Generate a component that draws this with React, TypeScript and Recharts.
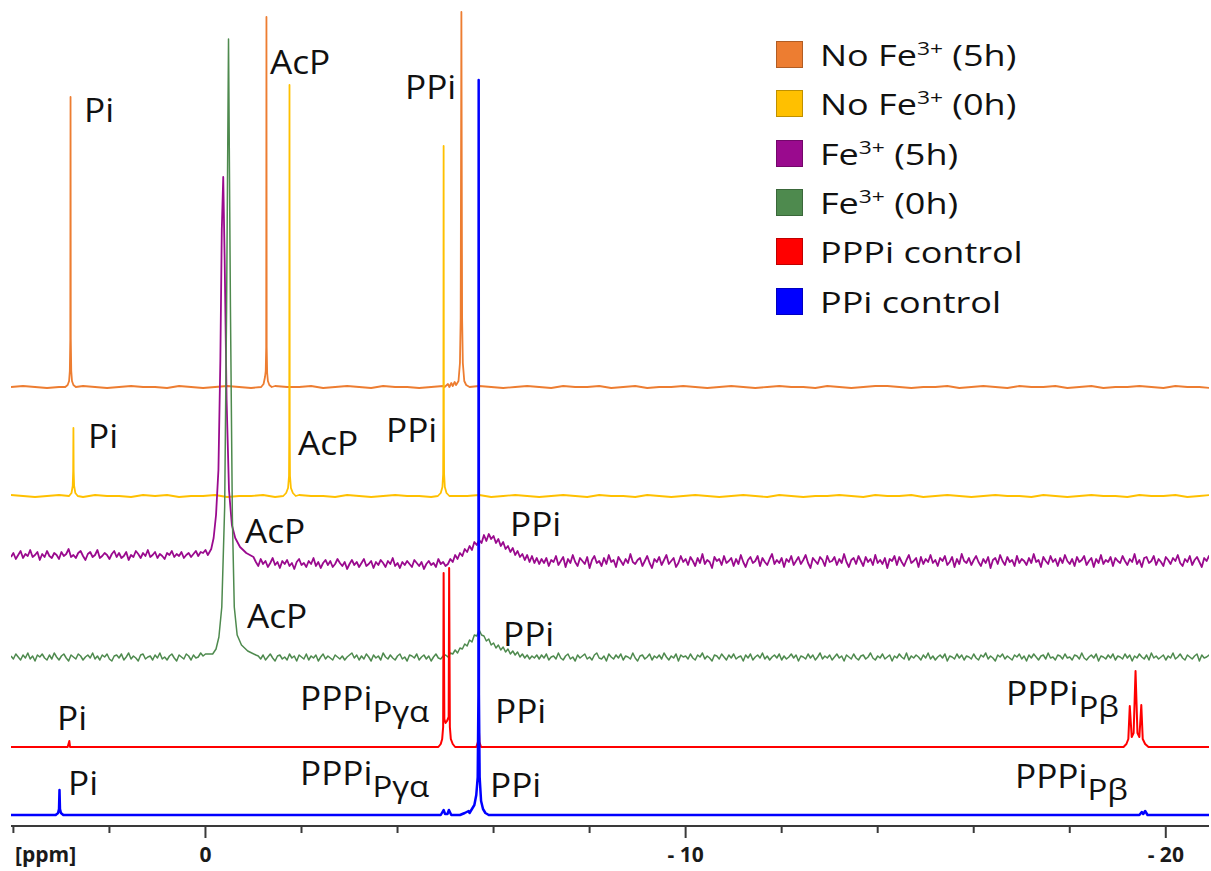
import React from 'react';
import { LineChart, Line, XAxis, YAxis } from 'recharts';

type Pt = [number, number];
type Segment = { from: number; step: number; values: number[] };

const W = 1211;
const H = 871;
const PLOT_H = 826;
const PPM_LEFT = 4.05;
const PPM_RIGHT = -20.9;
const AXIS_TICKS = [4, 2, 0, -2, -4, -6, -8, -10, -12, -14, -16, -18, -20];

// ---- No Fe3+ (5h) ----
const orangeBase: Segment[] = [
  {
    from: 4.05,
    step: 0.25,
    values: [
      0, 1, 0, -1, 0, 1, 1, 0, -1, 0, 1, 0, 0, -1, 1, 0, -1, 0, 1, 0,
      -1, 0, 1, 0, 0, 1, -1, 0, 1, 0, -1, 1, 0, 0, -1, 0, 1, 0, -1, 1,
      0, -1, 0, 1, 0, -1, 1, 0, 0, 1, -1, 0, 1, -1, 0, 0, 1, 0, -1, 0,
      1, 0, -1, 0, 1, 0, 0, -1, 1, 0, -1, 0, 1, 1, 0, -1, 0, 0, 1, -1,
      0, 1, 0, -1, 1, 0, 0, 1, -1, 0, 1, -1, 0, 0, 1, 0, -1, 1, 0, 0,
      -1,
    ],
  },
];
const orangePeaks: Pt[][] = [
  [[2.92, 0], [2.87, 2], [2.84, 6], [2.825, 16], [2.815, 48], [2.81, 290], [2.805, 48], [2.795, 16], [2.78, 6], [2.75, 2], [2.7, 0]],
  [[-1.16, 0], [-1.21, 3], [-1.24, 10], [-1.255, 16], [-1.265, 40], [-1.27, 370], [-1.275, 40], [-1.285, 14], [-1.3, 6], [-1.33, 2], [-1.38, 0]],
  [[-4.98, 0], [-5.05, 3], [-5.08, 0], [-5.12, 4], [-5.15, 1], [-5.19, 5], [-5.22, 2], [-5.27, 6], [-5.3, 24], [-5.315, 69], [-5.33, 375], [-5.345, 69], [-5.36, 24], [-5.39, 6], [-5.43, 2], [-5.5, 0]],
];

// ---- No Fe3+ (0h) ----
const yellowBase: Segment[] = [
  {
    from: 4.05,
    step: 0.25,
    values: [
      1, 0, -1, 0, 1, 0, -1, 1, 0, 0, -1, 1, 0, 1, -1, 0, 0, 1, -1, 0,
      0, 1, -1, 0, 1, 0, 0, -1, 1, 0, -1, 0, 1, 0, 0, -1, 1, 0, 0, 1,
      -1, 0, 1, 0, -1, 0, 1, 0, -1, 1, 0, 0, -1, 1, 0, -1, 0, 1, 0, -1,
      0, 1, 0, -1, 1, 0, -1, 0, 0, 1, 0, -1, 1, 0, 0, 1, -1, 0, 1, 0,
      -1, 0, 1, 0, 0, -1, 1, 0, -1, 0, 1, 0, 0, -1, 1, 0, 0, 1, -1, 0,
      1,
    ],
  },
];
const yellowPeaks: Pt[][] = [
  [[2.84, 0], [2.79, 3], [2.765, 10], [2.755, 25], [2.75, 68], [2.745, 25], [2.735, 10], [2.71, 3], [2.66, 0]],
  [[-1.62, 0], [-1.68, 3], [-1.72, 8], [-1.74, 20], [-1.745, 60], [-1.75, 411], [-1.755, 60], [-1.76, 20], [-1.78, 8], [-1.82, 3], [-1.88, 0]],
  [[-4.84, 0], [-4.9, 3], [-4.935, 9], [-4.95, 22], [-4.955, 76], [-4.96, 350], [-4.965, 76], [-4.97, 22], [-4.985, 9], [-5.02, 3], [-5.08, 0]],
];

// ---- Fe3+ (5h) ----
const purpleBase: Segment[] = [
  {
    from: 4.05,
    step: 0.05,
    values: [
      3, 7, 1, 5, 9, 2, 6, 4, 10, 3, 5, 8, 0, 6, 3, 9, 4, 2, 7, 5,
      1, 8, 4, 6, 11, 3, 5, 2, 7, 9, 4, 0, 6, 8, 3, 5, 10, 2, 4, 7,
      5, 1, 6, 9, 3, 7, 2, 4, 8, 0, 5, 3, 9, 6, 2, 7, 4, 10, 3, 5,
      8, 2, 6, 4, 1, 7, 5, 9, 3, 6, 4, 8, 2, 5, 7, 3, 6, 9, 4, 8,
      7, 10,
    ],
  },
  {
    from: -1.05,
    step: 0.05,
    values: [
      -2, -6, 1, -4, -1, -7, -3, 2, -5, -2, -8, -1, -4, 0, -6, -3, -9, -2, 1, -5,
      -3, -7, -1, -4, 2, -6, -2, -8, -3, 0, -5, -1, -7, -4, 1, -3, -6, -2, -9, -4,
      0, -5, -2, -7, -3, 1, -6, -4, -1, -8, -2, -5, 0, -3, -7, -1, -4, 2, -6, -3,
      -8, -2, -5, -1, -4, -7, 0, -3, -6, -2, -9, -4, -1, -5, -3, -7, 1, -4, -2, -6,
    ],
  },
  {
    from: -5.05,
    step: 0.05,
    values: [
      -4, 1, -2, 5, 1, 7, 4, 11, 8, 14, 10, 18, 15, 20, 17, 25, 19, 26, 21, 24,
      17, 21, 14, 18, 11, 14, 8, 12, 5, 9, 3, 6, 0, 5, -2, 4, -3, 2, -4, 1,
    ],
  },
  {
    from: -7.05,
    step: 0.05,
    values: [
      -3, 2, -6, 0, -2, 4, -5, -1, 3, -7, 1, -3, 5, -2, -6, 2, -1, -4, 3, -8,
      0, 4, -3, -1, -6, 2, -4, 5, -2, 0, -7, 3, -1, -5, 1, -3, 6, -2, -4, 0,
      2, -6, -1, 4, -3, -8, 1, -2, 3, -5, 0, 5, -4, -1, 2, -7, -3, 4, -2, 1,
      -5, 3, -1, -6, 2, -3, 6, -4, 0, -2, -8, 3, -1, 1, -5, 4, -3, -1, 2, -6,
      1, -4, 5, -2, -7, 0, 3, -3, -1, 4, -6, 2, -2, -5, 1, 6, -4, 0, -3, 2,
      -7, 1, -2, 4, -5, -1, 3, -4, 0, 5, -3, -8, 2, -1, -4, 3, 0, -6, 4, -2,
      -1, 3, -5, 1, -3, 6, -2, -7, 0, 2, -4, 4, -1, -6, 3, -2, 1, -5, 5, -3,
      0, -4, 2, -8, 1, -1, 4, -5, 3, -2, -6, 0, 5, -3, -1, 2, -7, 3, -4, 1,
      -2, 5, -3, 0, -6, 2, -1, 4, -5, -2, 3, -7, 1, -4, 6, -1, -3, 2, -5, 0,
      4, -2, -6, 1, -3, 3, -8, 0, 2, -4, 5, -1, -5, 3, -2, 0, -6, 4, -3, 1,
      -1, -5, 2, -3, 6, -2, 0, -7, 3, -1, -4, 4, -2, 1, -6, 2, -3, 5, -1, -4,
      1, -6, 3, -2, 0, 4, -5, -1, 2, -7, 1, -3, 5, -4, 0, -2, 3, -6, 2, -1,
      -3, 4, -1, -5, 1, -2, 6, -4, 0, -7, 2, 3, -3, -1, 4, -5, 1, -2, -6, 3,
      0, -4, 2, -1, 5, -3, -6, 1, -2, 4, -5, 0, 3, -2, -7, 2, -1, 4, -3,
    ],
  },
];
const purplePeaks: Pt[][] = [
  [[-0.05, 5], [-0.12, 11], [-0.17, 22], [-0.22, 45], [-0.27, 90], [-0.31, 200], [-0.34, 330], [-0.37, 383], [-0.4, 300], [-0.44, 160], [-0.49, 70], [-0.55, 35], [-0.62, 22], [-0.72, 13], [-0.85, 7], [-1.0, 3]],
];

// ---- Fe3+ (0h) ----
const greenBase: Segment[] = [
  {
    from: 4.05,
    step: 0.05,
    values: [
      1, -2, 3, 0, -3, 2, -1, 4, -2, 1, -4, 2, 0, 3, -1, -3, 2, -2, 4, 0,
      -3, 1, 3, -1, -4, 2, 0, -2, 3, 1, -3, 0, 2, -1, 4, -2, 1, -3, 2, 0,
      3, -2, -4, 1, 2, -1, 3, -3, 0, 4, -2, 1, -1, -4, 2, 3, -2, 0, 1, -3,
      2, -1, 4, -2, 0, -3, 1, 3, -1, -4, 2, 0, -2, 3, 1, -3, 2, -1, 0, 4,
      1, 3,
    ],
  },
  {
    from: -1.1,
    step: 0.05,
    values: [
      1, -2, 2, -3, 0, 3, -1, -4, 1, 2, -2, 0, -3, 3, -1, 1, -4, 2, 0, -2,
      3, -3, 1, -1, 2, -4, 0, 3, -2, 1, -1, -3, 2, 0, -2, 1, -3, 0, 2, 4,
      -1, 2, -3, 1, -2, 3, 0, -4, 2, -1, 1, -3, 4, 0, -2, 2, -1, -3, 1, 3,
      -2, 0, -4, 2, 1, -1, 3, -3, 0, 2, -2, 1, -4, 0, 3, -1, -2, 1,
    ],
  },
  {
    from: -5.0,
    step: 0.05,
    values: [
      2, 0, 4, 3, 7, 4, 9, 8, 13, 11, 17, 15, 22, 21, 27, 22, 21, 16, 18, 12,
      14, 9, 12, 7, 10, 5, 8, 3, 6, 2, 5, 0, 3, -1, 2, -2, 1, -1, 2, -2,
    ],
  },
  {
    from: -7.0,
    step: 0.05,
    values: [
      2, -1, 3, -3, 0, 1, -2, 4, -1, -3, 1, 3, -2, 0, -4, 2, -1, 1, 3, -2,
      0, -3, 2, 4, -1, -2, 1, -4, 3, 0, -2, 2, -1, 3, -3, 1, 0, -2, 4, -1,
      -4, 1, 2, -2, 0, 3, -3, 1, -1, 2, -2, 4, 0, -3, 1, -1, 3, -4, 2, 0,
      1, -2, 3, -1, -3, 2, 0, 4, -2, 1, -1, -4, 2, 1, -2, 3, 0, -3, 2, -1,
      3, -2, 0, 1, -4, 2, -1, 3, -3, 0, 2, -1, 4, -2, 1, -3, 0, 2, -1, 3,
      -3, 1, -2, 0, 3, -1, 2, -4, 1, 0, -2, 3, -1, 2, -3, 0, 4, -2, 1, -1,
      2, -3, 0, 3, -1, 1, -4, 2, 0, -2, 3, -1, -3, 1, 2, -2, 0, 4, -1, -3,
      1, -1, 3, -2, 0, 2, -4, 1, -1, 3, 0, -2, 4, -3, 1, -1, 2, 0, -3, 2,
      -1, 4, -2, 1, -3, 0, 2, -1, 3, -4, 1, 0, -2, 3, -1, 2, -3, 1, 0, -2,
      3, -1, -3, 2, 0, 4, -2, 1, -1, -4, 2, 0, 3, -2, 1, -1, -3, 2, 0, 3,
      -2, 1, -4, 2, -1, 3, 0, -3, 1, 2, -2, 4, -1, 0, -3, 2, 1, -2, 3, -1,
      0, -3, 2, 1, -2, 4, -1, -3, 0, 2, -1, 3, -4, 1, 0, -2, 2, -1, 3, -3,
      1, 0, -2, 3, -1, 2, -4, 1, -1, 3, 0, -2, 2, -3, 4, -1, 1, -2, 0, 2,
      -3, 1, -1, 4, -2, 0, 3, -1, -3, 2, 0, -2, 1, 3, -4, 2, -1, 0, 2, -1,
    ],
  },
];
const greenPeaks: Pt[][] = [
  [[-0.15, 3], [-0.22, 8], [-0.28, 20], [-0.34, 50], [-0.4, 150], [-0.44, 350], [-0.48, 618], [-0.52, 350], [-0.56, 140], [-0.6, 50], [-0.66, 22], [-0.75, 12], [-0.88, 6], [-1.05, 2]],
];

// ---- PPPi control ----
const redBase: Segment[] = [{ from: PPM_LEFT, step: PPM_LEFT - PPM_RIGHT, values: [0, 0] }];
const redPeaks: Pt[][] = [
  [[2.87, 0], [2.835, 6], [2.82, 0]],
  [[-4.85, 0], [-4.9, 3], [-4.93, 8], [-4.95, 20], [-4.96, 174], [-4.975, 28], [-5.0, 24], [-5.03, 26], [-5.065, 30], [-5.075, 179], [-5.09, 20], [-5.11, 8], [-5.15, 3], [-5.2, 0]],
  [[-5.64, 0], [-5.675, 5], [-5.69, 23], [-5.705, 5], [-5.74, 0]],
  [[-19.12, 0], [-19.18, 3], [-19.22, 8], [-19.25, 41], [-19.29, 10], [-19.33, 14], [-19.37, 76], [-19.41, 14], [-19.45, 10], [-19.49, 42], [-19.52, 8], [-19.57, 3], [-19.64, 0]],
];

// ---- PPi control ----
const blueBase: Segment[] = [{ from: PPM_LEFT, step: PPM_LEFT - PPM_RIGHT, values: [0, 0] }];
const bluePeaks: Pt[][] = [
  [[3.12, 0], [3.07, 2], [3.05, 6], [3.04, 25], [3.03, 6], [3.01, 2], [2.96, 0]],
  [[-4.9, 0], [-4.96, 5], [-4.99, 1], [-5.04, 1], [-5.07, 5], [-5.12, 0]],
  [[-5.3, 0], [-5.4, 2], [-5.48, 4], [-5.5, 2], [-5.55, 6], [-5.6, 10], [-5.64, 20], [-5.67, 38], [-5.685, 120], [-5.69, 735], [-5.695, 120], [-5.71, 38], [-5.74, 14], [-5.78, 6], [-5.83, 2], [-5.9, 0]],
  [[-19.45, 0], [-19.5, 3], [-19.53, 1], [-19.57, 4], [-19.62, 0]],
];

const traces = [
  { key: 'orange', name: 'No Fe', ion: '3+', tail: ' (5h)', color: '#ED7D31', offset: 439, width: 1.8, base: orangeBase, peaks: orangePeaks },
  { key: 'yellow', name: 'No Fe', ion: '3+', tail: ' (0h)', color: '#FFC000', offset: 330, width: 1.8, base: yellowBase, peaks: yellowPeaks },
  { key: 'purple', name: 'Fe', ion: '3+', tail: ' (5h)', color: '#9A0A8E', offset: 266, width: 1.8, base: purpleBase, peaks: purplePeaks },
  { key: 'green', name: 'Fe', ion: '3+', tail: ' (0h)', color: '#4E8A4E', offset: 169, width: 1.5, base: greenBase, peaks: greenPeaks },
  { key: 'red', name: 'PPPi control', ion: '', tail: '', color: '#FF0000', offset: 79, width: 2, base: redBase, peaks: redPeaks },
  { key: 'blue', name: 'PPi control', ion: '', tail: '', color: '#0000FF', offset: 11, width: 2.5, base: blueBase, peaks: bluePeaks },
];

const peakLabels = [
  { text: 'Pi', x: 84, y: 122 },
  { text: 'AcP', x: 270, y: 74 },
  { text: 'PPi', x: 405, y: 99 },
  { text: 'Pi', x: 88, y: 448 },
  { text: 'AcP', x: 298, y: 455 },
  { text: 'PPi', x: 386, y: 442 },
  { text: 'AcP', x: 245, y: 543 },
  { text: 'PPi', x: 510, y: 536 },
  { text: 'AcP', x: 247, y: 628 },
  { text: 'PPi', x: 503, y: 646 },
  { text: 'Pi', x: 57, y: 730 },
  { text: 'PPPi', sub: 'Pγα', x: 300, y: 710 },
  { text: 'PPi', x: 495, y: 723 },
  { text: 'PPPi', sub: 'Pβ', x: 1006, y: 705 },
  { text: 'Pi', x: 68, y: 795 },
  { text: 'PPPi', sub: 'Pγα', x: 300, y: 785 },
  { text: 'PPi', x: 490, y: 797 },
  { text: 'PPPi', sub: 'Pβ', x: 1015, y: 788 },
];

const FONT = '"Open Sans", "Noto Sans", sans-serif';

// baseline points that fall inside a peak group are replaced by the peak's own points
function buildTrace(base: Segment[], peaks: Pt[][], offset: number) {
  const ranges = peaks.map((g) => [Math.min(...g.map((p) => p[0])), Math.max(...g.map((p) => p[0]))]);
  const pts: Pt[] = [];
  base.forEach((seg) =>
    seg.values.forEach((v, i) => {
      const ppm = +(seg.from - i * seg.step).toFixed(3);
      if (!ranges.some(([lo, hi]) => ppm >= lo && ppm <= hi)) pts.push([ppm, v]);
    })
  );
  peaks.forEach((g) => pts.push(...g));
  pts.sort((a, b) => b[0] - a[0]);
  return pts.map(([ppm, v]) => ({ ppm, v: v + offset }));
}

const tickText = (v: number) => (v === 0 ? '0' : `- ${Math.abs(v)}`);

const AxisTick = (props: any) => {
  const { x, y, payload } = props;
  const major = payload.value % 10 === 0;
  return (
    <g>
      <line x1={x} x2={x} y1={y} y2={y + (major ? 12 : 7)} stroke="#3a3a3a" strokeWidth={2} />
      {major && (
        <text x={x} y={y + 36} textAnchor="middle" fontFamily={FONT} fontWeight={700} fontSize={21} fill="#1a1a1a">
          {tickText(payload.value)}
        </text>
      )}
    </g>
  );
};

export default function App() {
  const series = React.useMemo(
    () => traces.map((t) => ({ ...t, data: buildTrace(t.base, t.peaks, t.offset) })),
    []
  );

  return (
    <div style={{ position: 'absolute', left: 0, top: 0, width: W, height: H, background: '#fff' }}>
      <LineChart width={W} height={H} margin={{ top: 0, right: 2, left: 11, bottom: 0 }}>
        <XAxis
          dataKey="ppm"
          type="number"
          domain={[PPM_RIGHT, PPM_LEFT]}
          reversed
          allowDataOverflow
          ticks={AXIS_TICKS}
          interval={0}
          height={H - PLOT_H}
          tickSize={0}
          tickMargin={0}
          tick={<AxisTick />}
          tickLine={false}
          axisLine={{ stroke: '#3a3a3a', strokeWidth: 2 }}
        />
        <YAxis type="number" domain={[0, PLOT_H]} hide allowDataOverflow />
        {series.map((s) => (
          <Line
            key={s.key}
            data={s.data}
            dataKey="v"
            type="linear"
            stroke={s.color}
            strokeWidth={s.width}
            strokeLinejoin="round"
            dot={false}
            activeDot={false}
            isAnimationActive={false}
          />
        ))}
      </LineChart>

      <svg width={W} height={H} style={{ position: 'absolute', left: 0, top: 0, pointerEvents: 'none' }}>
        <text x={15} y={862} fontFamily={FONT} fontWeight={700} fontSize={21} fill="#1a1a1a">
          [ppm]
        </text>
        {peakLabels.map((l, i) => (
          <text
            key={i}
            transform={`translate(${l.x} ${l.y}) scale(1.1 1)`}
            fontFamily={FONT}
            fontSize={32}
            fill="#111"
          >
            {l.text}
            {l.sub && (
              <tspan dy={12} fontSize={30}>
                {l.sub}
              </tspan>
            )}
          </text>
        ))}
      </svg>

      <div style={{ position: 'absolute', left: 776, top: 30, fontFamily: FONT, fontSize: 30, color: '#111' }}>
        {traces.map((t) => (
          <div key={t.key} style={{ display: 'flex', alignItems: 'center', height: 49.3 }}>
            <span
              style={{
                width: 25,
                height: 25,
                background: t.color,
                border: '1px solid rgba(0,0,0,0.25)',
                marginRight: 17,
                flex: 'none',
              }}
            />
            <span
              style={{
                whiteSpace: 'nowrap',
                display: 'inline-block',
                transform: 'scaleX(1.2)',
                transformOrigin: 'left center',
              }}
            >
              {t.name}
              {t.ion && <span style={{ fontSize: 19, position: 'relative', top: -11 }}>{t.ion}</span>}
              {t.tail}
            </span>
          </div>
        ))}
      </div>
    </div>
  );
}
